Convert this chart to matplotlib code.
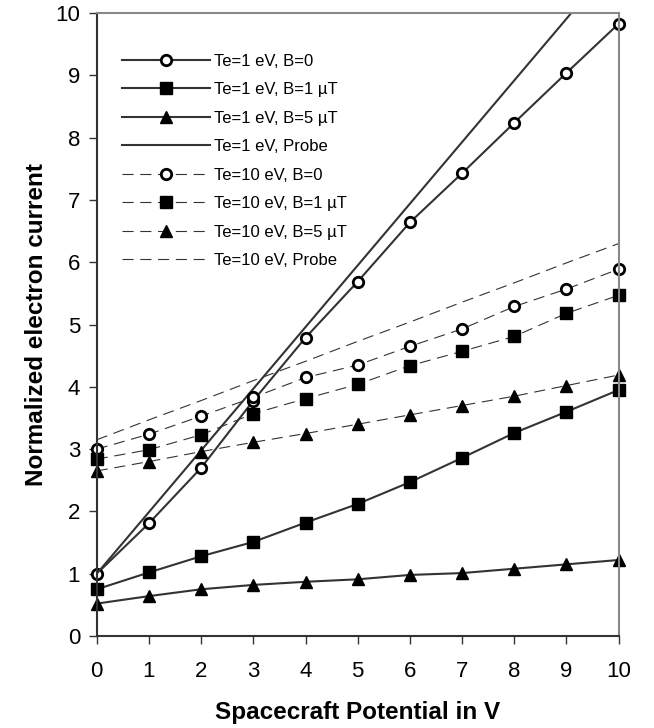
import matplotlib
matplotlib.use("Agg")
import matplotlib.pyplot as plt

plt.rcParams['font.family'] = ['Liberation Sans', 'DejaVu Sans']

x = [0, 1, 2, 3, 4, 5, 6, 7, 8, 9, 10]
te1_b0 = [1.0, 1.81, 2.70, 3.78, 4.79, 5.69, 6.64, 7.43, 8.24, 9.04, 9.83]
te1_b1 = [0.75, 1.02, 1.28, 1.51, 1.82, 2.12, 2.47, 2.86, 3.26, 3.60, 3.95]
te1_b5 = [0.52, 0.64, 0.75, 0.82, 0.87, 0.91, 0.98, 1.01, 1.08, 1.15, 1.22]
te1_probe = [1.0, 1.99, 2.98, 3.97, 4.96, 5.95, 6.94, 7.93, 8.92, 9.91, 10.9]
te10_b0 = [3.0, 3.24, 3.53, 3.83, 4.15, 4.35, 4.65, 4.93, 5.29, 5.57, 5.89]
te10_b1 = [2.84, 2.99, 3.23, 3.57, 3.81, 4.04, 4.34, 4.57, 4.81, 5.18, 5.47]
te10_b5 = [2.65, 2.80, 2.96, 3.11, 3.25, 3.40, 3.55, 3.70, 3.85, 4.02, 4.19]
te10_probe = [3.15, 3.47, 3.78, 4.10, 4.41, 4.73, 5.04, 5.36, 5.67, 5.99, 6.30]

labels = ["Te=1 eV, B=0", "Te=1 eV, B=1 \u00b5T", "Te=1 eV, B=5 \u00b5T", "Te=1 eV, Probe",
          "Te=10 eV, B=0", "Te=10 eV, B=1 \u00b5T", "Te=10 eV, B=5 \u00b5T", "Te=10 eV, Probe"]

fig = plt.figure(figsize=(6.54, 7.28), dpi=100)
ax = fig.add_axes([0.148, 0.1264, 0.798, 0.8556])

lc = '#333333'
solid = dict(color=lc, lw=1.5, ls='-')
dash = dict(color=lc, lw=0.8, ls=(0, (10, 6)))
circ = dict(marker='o', mfc='white', mec='black', mew=2.0, ms=7.5)
sq = dict(marker='s', mfc='black', mec='black', ms=8.5)
tri = dict(marker='^', mfc='black', mec='black', ms=9)

ax.plot(x, te1_b0, label=labels[0], clip_on=False, **solid, **circ)
ax.plot(x, te1_b1, label=labels[1], clip_on=False, **solid, **sq)
ax.plot(x, te1_b5, label=labels[2], clip_on=False, **solid, **tri)
ax.plot(x, te1_probe, label=labels[3], **solid)
ax.plot(x, te10_b0, label=labels[4], clip_on=False, **dash, **circ)
ax.plot(x, te10_b1, label=labels[5], clip_on=False, **dash, **sq)
ax.plot(x, te10_b5, label=labels[6], clip_on=False, **dash, **tri)
ax.plot(x, te10_probe, label=labels[7], **dash)

ax.set_xlim(0, 10)
ax.set_ylim(0, 10)
ax.set_xticks(range(0, 11))
ax.set_yticks(range(0, 11))
ax.tick_params(axis='both', direction='out', length=6, width=1, color='#333333', labelsize=16)
ax.tick_params(axis='x', pad=12)
ax.tick_params(axis='y', pad=6)

for s in ['left', 'bottom']:
    ax.spines[s].set_color('#333333')
    ax.spines[s].set_linewidth(1.5)
for s in ['top', 'right']:
    ax.spines[s].set_color('#888888')
    ax.spines[s].set_linewidth(1.5)

ax.set_xlabel("Spacecraft Potential in V", fontsize=17.5, fontweight='bold', labelpad=14)
ax.set_ylabel("Normalized electron current", fontsize=17.5, fontweight='bold', labelpad=5)

leg = ax.legend(loc='upper left', bbox_to_anchor=(0.048, 0.935), frameon=False, fontsize=12,
                handlelength=5.3, handletextpad=0.25, labelspacing=0.81, borderaxespad=0,
                borderpad=0, numpoints=1)

fig.savefig("out.png", dpi=100)
